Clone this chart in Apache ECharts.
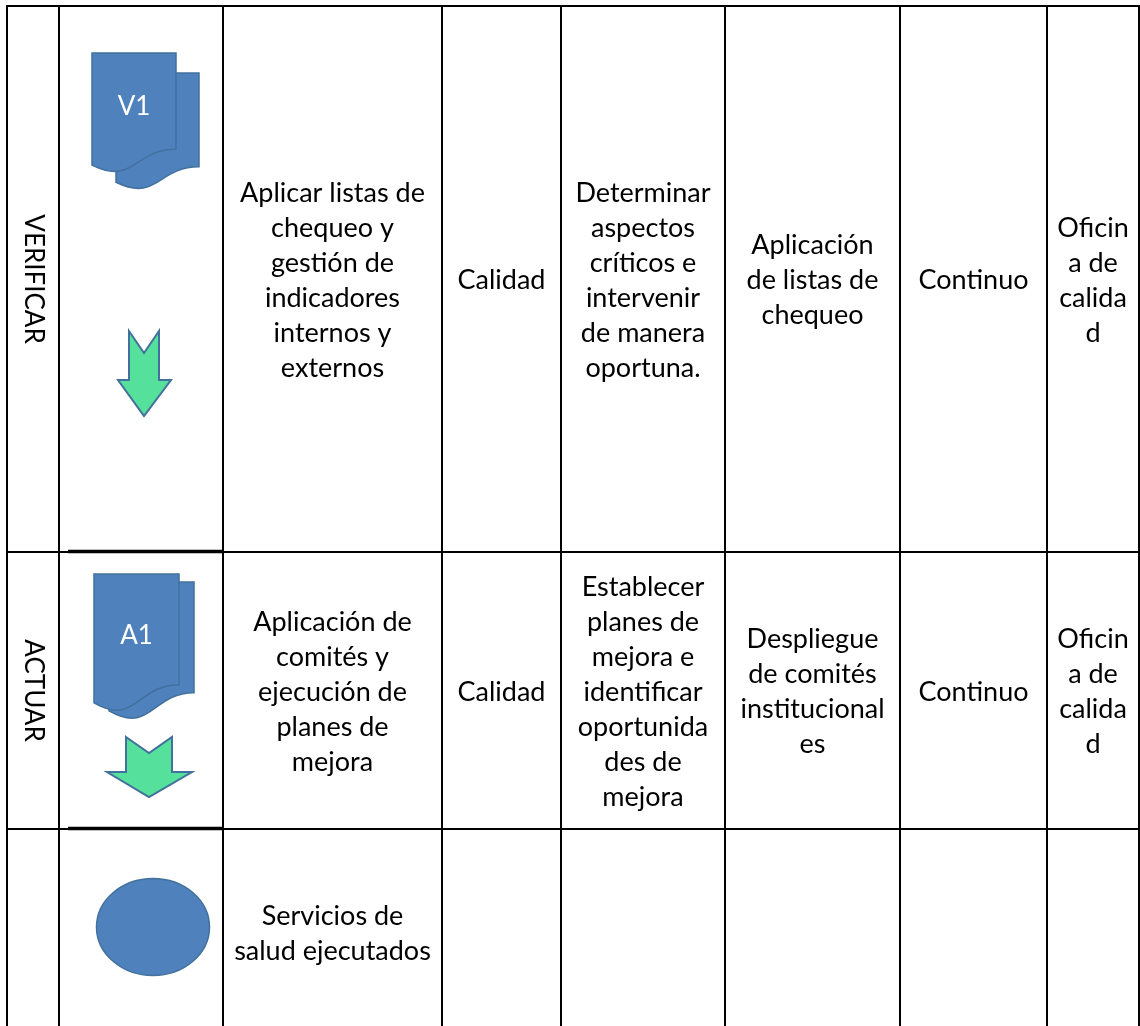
<!DOCTYPE html>
<html>
<head>
<meta charset="utf-8">
<script src="https://cdn.jsdelivr.net/npm/echarts@6/dist/echarts.min.js"></script>
<style>
html,body{margin:0;padding:0;background:#ffffff;}
#chart{width:1140px;height:1026px;}
</style>
</head>
<body>
<div id="chart"></div>
<script>
// ---------- data ----------
const phases = ['VERIFICAR', 'ACTUAR', ''];
const symbolTypes = ['document', 'document', 'terminator'];
const symbolLabels = ['V1', 'A1', ''];
const arrows = [true, true, false];
const activities = [
  'Aplicar listas de\nchequeo y\ngestión de\nindicadores\ninternos y\nexternos',
  'Aplicación de\ncomités y\nejecución de\nplanes de\nmejora',
  'Servicios de\nsalud ejecutados'
];
const responsibles = ['Calidad', 'Calidad', ''];
const objectives = [
  'Determinar\naspectos\ncríticos e\nintervenir\nde manera\noportuna.',
  'Establecer\nplanes de\nmejora e\nidentificar\noportunida\ndes de\nmejora',
  ''
];
const indicators = [
  'Aplicación\nde listas de\nchequeo',
  'Despliegue\nde comités\ninstitucional\nes',
  ''
];
const frequencies = ['Continuo', 'Continuo', ''];
const owners = ['Oficin\na de\ncalida\nd', 'Oficin\na de\ncalida\nd', ''];
// table structure (table units)
const colWidths = [52, 164, 219, 119, 164, 175, 147, 92];
const rowHeights = [546, 277, 207];

// ---------- layout ----------
const TABLE_LEFT = 7, TABLE_TOP = 6;
const colEdges = colWidths.reduce((a, w) => { a.push(a[a.length - 1] + w); return a; }, [TABLE_LEFT]);
const rowEdges = rowHeights.reduce((a, h) => { a.push(a[a.length - 1] + h); return a; }, [TABLE_TOP]);
const textColumns = [activities, responsibles, objectives, indicators, frequencies, owners];
const FONT = 'Lato, "Open Sans", sans-serif';
const FS = 27, LH = 35;
const BLUE = '#4F81BD', BLUE_STROKE = '#41719C', GREEN = '#55E09B';

const cellData = [];
for (let r = 0; r < phases.length; r++) {
  for (let k = 0; k < textColumns.length; k++) {
    cellData.push([k + 2, r]);
  }
}

const chart = echarts.init(document.getElementById('chart'), null, { renderer: 'canvas' });

function docPath(api, x0, y0, w, h) {
  const P = (x, y) => api.coord([x, y]);
  const a = P(x0, y0), b = P(x0 + w, y0), c = P(x0 + w, y0 + 0.802 * h);
  const c1 = P(x0 + 0.5 * w, y0 + 0.802 * h), c2 = P(x0 + 0.5 * w, y0 + 1.107 * h);
  const d = P(x0, y0 + 0.934 * h);
  return `M${a[0]},${a[1]} L${b[0]},${b[1]} L${c[0]},${c[1]} C${c1[0]},${c1[1]} ${c2[0]},${c2[1]} ${d[0]},${d[1]} Z`;
}

const option = {
  animation: false,
  backgroundColor: '#ffffff',
  grid: { left: 0, right: 0, top: 0, bottom: 0 },
  xAxis: { type: 'value', min: 0, max: 1140, show: false },
  yAxis: { type: 'value', min: 0, max: 1026, inverse: true, show: false },
  series: [
    // vertical borders
    {
      type: 'custom', silent: true,
      data: colEdges.map((_, i) => [i]),
      renderItem: function (params, api) {
        const i = api.value(0);
        const p1 = api.coord([colEdges[i], rowEdges[0] - 1]);
        const p2 = api.coord([colEdges[i], rowEdges[rowEdges.length - 1]]);
        return { type: 'line', shape: { x1: p1[0], y1: p1[1], x2: p2[0], y2: p2[1] },
          style: { stroke: '#000', lineWidth: 2 } };
      }
    },
    // horizontal borders
    {
      type: 'custom', silent: true,
      data: rowEdges.slice(0, -1).map((_, i) => [i]),
      renderItem: function (params, api) {
        const i = api.value(0);
        const p1 = api.coord([colEdges[0] - 1, rowEdges[i]]);
        const p2 = api.coord([colEdges[colEdges.length - 1] + 1, rowEdges[i]]);
        const children = [{ type: 'line', shape: { x1: p1[0], y1: p1[1], x2: p2[0], y2: p2[1] },
          style: { stroke: '#000', lineWidth: 2 } }];
        if (i > 0) {
          const q1 = api.coord([colEdges[1] + 9, rowEdges[i] - 0.5]);
          const q2 = api.coord([colEdges[2], rowEdges[i] - 0.5]);
          children.push({ type: 'line', shape: { x1: q1[0], y1: q1[1], x2: q2[0], y2: q2[1] },
            style: { stroke: '#000', lineWidth: 3.5 } });
        }
        return { type: 'group', children };
      }
    },
    // cell texts
    {
      type: 'custom', silent: true,
      data: cellData,
      renderItem: function (params, api) {
        const c = api.value(0), r = api.value(1);
        const text = textColumns[c - 2][r];
        if (!text) return null;
        const p = api.coord([(colEdges[c] + colEdges[c + 1]) / 2, (rowEdges[r] + rowEdges[r + 1]) / 2 + 1.5]);
        return { type: 'text', style: { text, x: p[0], y: p[1], align: 'center', verticalAlign: 'middle',
          fill: '#000', fontSize: FS, fontFamily: FONT, lineHeight: LH } };
      }
    },
    // phase labels (rotated)
    {
      type: 'custom', silent: true,
      data: phases.map((_, i) => [i]),
      renderItem: function (params, api) {
        const r = api.value(0);
        if (!phases[r]) return null;
        const p = api.coord([(colEdges[0] + colEdges[1]) / 2, (rowEdges[r] + rowEdges[r + 1]) / 2]);
        return { type: 'text', x: p[0], y: p[1], rotation: -Math.PI / 2,
          style: { text: phases[r], x: 0, y: 0, align: 'center', verticalAlign: 'middle',
            fill: '#000', fontSize: 26, fontFamily: FONT } };
      }
    },
    // flowchart symbols
    {
      type: 'custom', silent: true,
      data: symbolTypes.map((_, i) => [i]),
      renderItem: function (params, api) {
        const r = api.value(0);
        const ox = colEdges[1], oy = rowEdges[r];
        const children = [];
        if (symbolTypes[r] === 'document') {
          const g = r === 0
            ? { fx: 33, fy: 47, w: 84, h: 120, bx: 57, by: 67, bw: 83, bh: 117 }
            : { fx: 35, fy: 22, w: 85, h: 138, bx: 50, by: 30, bw: 85, bh: 138 };
          children.push({ type: 'path', shape: { pathData: docPath(api, ox + g.bx, oy + g.by, g.bw, g.bh) },
            style: { fill: BLUE, stroke: BLUE_STROKE, lineWidth: 1.5 } });
          children.push({ type: 'path', shape: { pathData: docPath(api, ox + g.fx, oy + g.fy, g.w, g.h) },
            style: { fill: BLUE, stroke: BLUE_STROKE, lineWidth: 1.5 } });
          const t = api.coord([ox + g.fx + g.w / 2, oy + g.fy + 0.45 * g.h]);
          children.push({ type: 'text', style: { text: symbolLabels[r], x: t[0], y: t[1], align: 'center',
            verticalAlign: 'middle', fill: '#ffffff', fontSize: 26, fontFamily: FONT } });
        } else if (symbolTypes[r] === 'terminator') {
          const cpt = api.coord([ox + 94, oy + 98]);
          children.push({ type: 'ellipse', shape: { cx: cpt[0], cy: cpt[1], rx: 56.5, ry: 48.5 },
            style: { fill: BLUE, stroke: BLUE_STROKE, lineWidth: 1.5 } });
        }
        if (arrows[r]) {
          const pts = r === 0
            ? [[70, 325], [85, 347], [100, 325], [100, 374], [112, 374], [85, 410], [59, 374], [70, 374]]
            : [[67, 185], [90, 201], [113, 185], [113, 220], [133, 220], [90, 245], [48, 220], [67, 220]];
          children.push({ type: 'polygon', shape: { points: pts.map(q => api.coord([ox + q[0], oy + q[1]])) },
            style: { fill: GREEN, stroke: BLUE_STROKE, lineWidth: 2, lineJoin: 'miter' } });
        }
        return { type: 'group', children };
      }
    }
  ]
};
chart.setOption(option);
</script>
</body>
</html>
